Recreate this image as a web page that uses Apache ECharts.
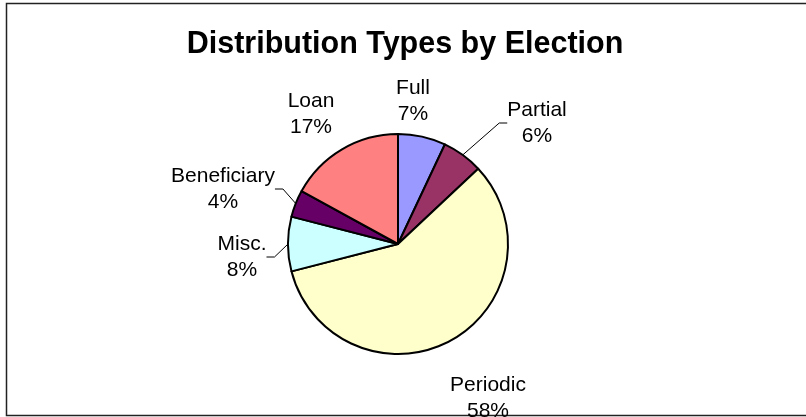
<!DOCTYPE html>
<html>
<head>
<meta charset="utf-8">
<script src="https://cdn.jsdelivr.net/npm/echarts@6/dist/echarts.min.js"></script>
<style>
html,body{margin:0;padding:0;background:#fff;}
#chart{width:806px;height:417px;}
</style>
</head>
<body>
<div id="chart"></div>
<script>
const categories = ['Full', 'Partial', 'Periodic', 'Misc.', 'Beneficiary', 'Loan'];
const values = [7, 6, 58, 8, 4, 17];
const colors = ['#9999FF', '#993366', '#FFFFCC', '#CCFFFF', '#660066', '#FF8080'];
const showLeader = [false, true, false, true, true, false];
const labelPos = [[413, 101], [537, 123], [488, 398], [242, 257], [223, 189], [311, 114]];

const chart = echarts.init(document.getElementById('chart'));
chart.setOption({
  backgroundColor: '#fff',
  animation: false,
  title: {
    text: 'Distribution Types by Election',
    left: 400, textAlign: 'center', top: 24,
    textStyle: { fontFamily: 'Liberation Sans', fontSize: 30.5, fontWeight: 'bold', color: '#000' }
  },
  graphic: [{
    type: 'rect', silent: true,
    shape: { x: 6.5, y: 3.5, width: 830, height: 412 },
    style: { fill: 'none', stroke: '#222', lineWidth: 1.5 }
  }],
  series: [{
    type: 'pie',
    center: [398, 244],
    radius: 110,
    startAngle: 90,
    clockwise: true,
    avoidLabelOverlap: false,
    itemStyle: { borderColor: '#000', borderWidth: 2 },
    label: {
      show: true,
      position: 'outside',
      fontFamily: 'Liberation Sans',
      fontSize: 21,
      lineHeight: 26,
      color: '#000',
      align: 'center',
      formatter: p => p.name + '\n' + Math.round(p.percent) + '%'
    },
    labelLine: { show: true, length: 8, length2: 8, lineStyle: { color: '#000', width: 1 } },
    labelLayout: function (params) {
      const pos = labelPos[params.dataIndex];
      return { x: pos[0], y: pos[1], align: 'center', verticalAlign: 'middle' };
    },
    emphasis: { disabled: true },
    data: categories.map((c, i) => ({
      name: c, value: values[i],
      itemStyle: { color: colors[i] },
      labelLine: { show: showLeader[i] }
    }))
  }]
});
</script>
</body>
</html>
